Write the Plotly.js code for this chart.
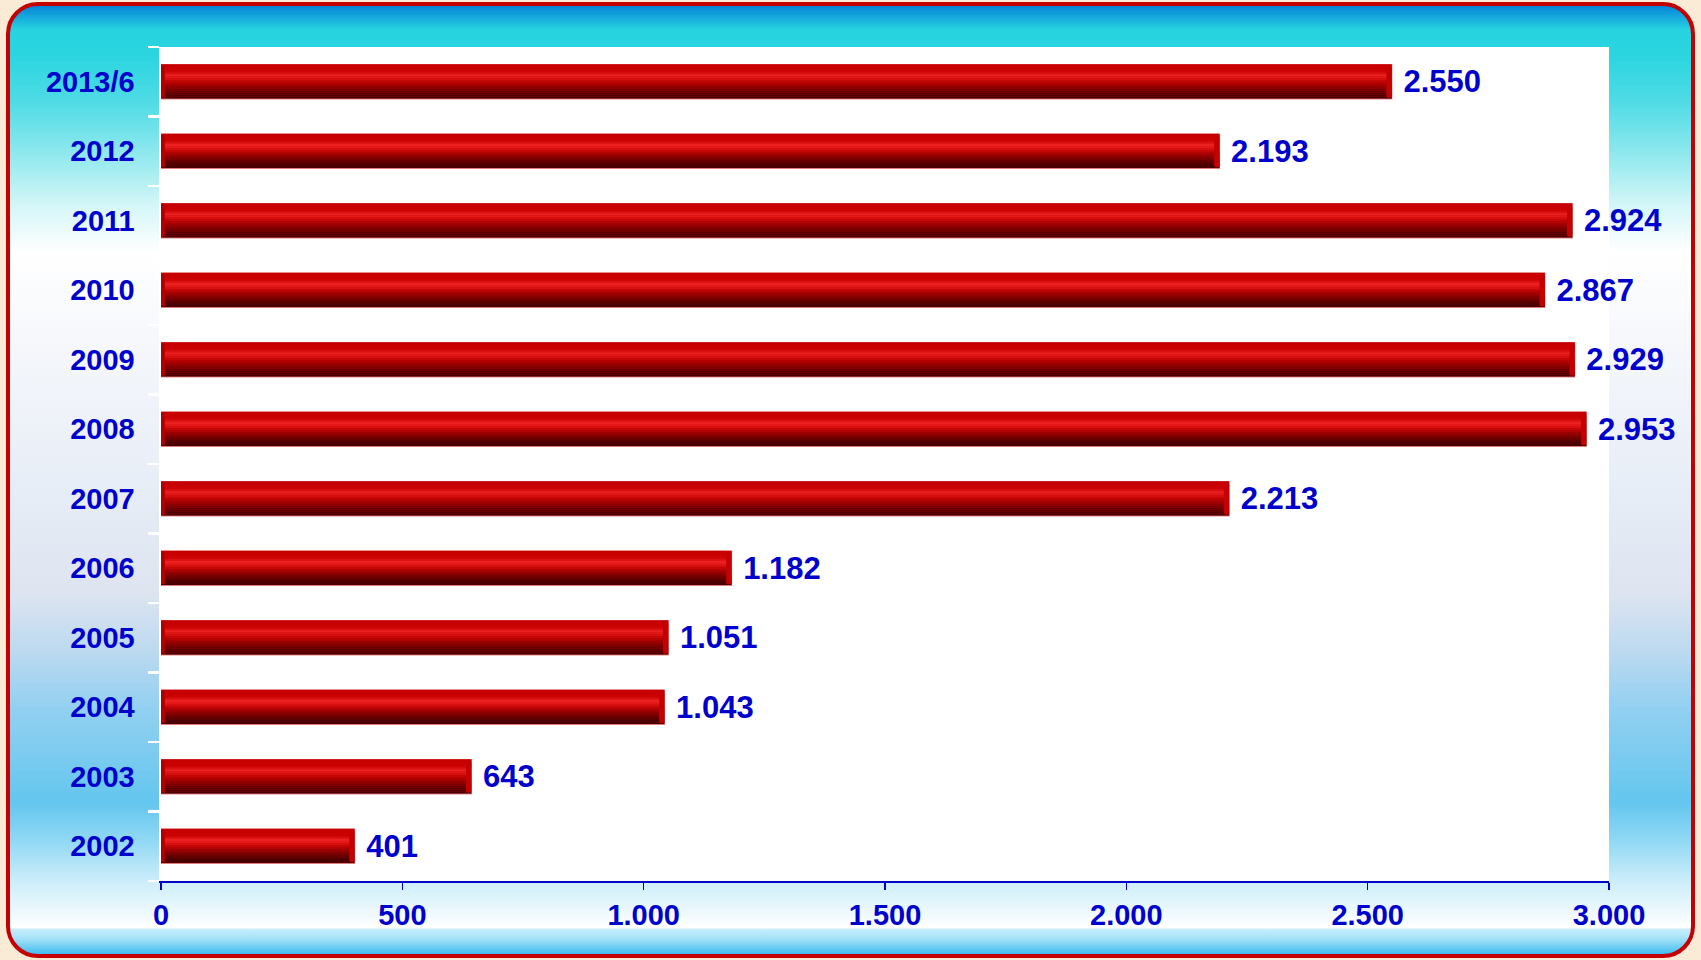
<!DOCTYPE html>
<html>
<head>
<meta charset="utf-8">
<script src="https://cdn.plot.ly/plotly-3.0.1.min.js"></script>
<style>
  html, body { margin: 0; padding: 0; width: 1701px; height: 960px; overflow: hidden; background: #f9ebd5; }
  #frame {
    position: absolute; left: 6px; top: 2px; width: 1681px; height: 948px;
    border: 4px solid #c40000; border-radius: 32px;
    background: linear-gradient(to bottom,
      #0784d8 0%, #27d3e0 2.5%, #2ad5e0 5%, #4edbe5 10%, #a0ecf0 17%, #d4f6f8 21%,
      #ffffff 26%, #f5f7fb 36%, #e8eef7 50%, #dde4f0 62%, #bcdaf0 68%, #93d0f1 74%,
      #64c6ee 84%, #90d8f4 88%, #c8ecf9 92%, #ffffff 97.2%, #c8eefb 97.4%, #9ee0f8 98.5%, #40bcf0 100%);
  }
  #chart { position: absolute; left: 0; top: 0; width: 1701px; height: 960px; }
</style>
</head>
<body>
<div id="frame"></div>
<div id="chart"></div>
<script>
// Data (bottom to top)
const years = ['2002','2003','2004','2005','2006','2007','2008','2009','2010','2011','2012','2013/6'];
const values = [401, 643, 1043, 1051, 1182, 2213, 2953, 2929, 2867, 2924, 2193, 2550];
const xTickValues = [0, 500, 1000, 1500, 2000, 2500, 3000];

const BLUE = '#0000CC';
const FONT = 'Liberation Sans, Arial, Helvetica, sans-serif';
const W = 0.49;

// cylinder shading stops (t from top of bar to bottom)
const stops = [
  [0.00, [196, 0, 0]],
  [0.06, [200, 0, 0]],
  [0.22, [204, 4, 4]],
  [0.32, [236, 32, 32]],
  [0.40, [226, 22, 22]],
  [0.50, [196, 6, 6]],
  [0.62, [156, 0, 0]],
  [0.75, [116, 0, 0]],
  [0.88, [82, 0, 0]],
  [1.00, [70, 0, 0]]
];
function colorAt(t) {
  for (let i = 0; i < stops.length - 1; i++) {
    const [t0, c0] = stops[i], [t1, c1] = stops[i + 1];
    if (t >= t0 && t <= t1) {
      const f = (t - t0) / (t1 - t0);
      const c = c0.map((v, k) => Math.round(v + (c1[k] - v) * f));
      return 'rgb(' + c.join(',') + ')';
    }
  }
  return 'rgb(70,0,0)';
}

const traces = [];
// base bar with outline and value labels
traces.push({
  type: 'bar', orientation: 'h', y: years, x: values,
  width: W,
  marker: { color: '#b80000', line: { color: 'rgba(226,110,110,0.85)', width: 1.2 } },
  text: values,
  texttemplate: '\u00a0%{x:,}',
  textposition: 'outside',
  textfont: { family: FONT, size: 31, color: BLUE, weight: 'bold' },
  constraintext: 'none',
  cliponaxis: false,
  hoverinfo: 'skip'
});
// shading slices
const N = 17;
for (let i = 0; i < N; i++) {
  const t0 = i / N, t1 = (i + 1) / N;
  traces.push({
    type: 'bar', orientation: 'h', y: years, x: values,
    width: W * (t1 - t0) * 0.96 + 0.0015,
    offset: W / 2 - W * t1 + 0.01 * W,
    marker: { color: colorAt((t0 + t1) / 2), line: { width: 0 } },
    hoverinfo: 'skip'
  });
}
// end caps
const capUnits = 11;
traces.push({
  type: 'bar', orientation: 'h', y: years, x: years.map(() => capUnits),
  base: values.map(v => v - capUnits),
  width: W * 0.94,
  marker: { color: '#c40000', line: { width: 0 }, cornerradius: 3 },
  hoverinfo: 'skip'
});
traces.push({
  type: 'bar', orientation: 'h', y: years, x: years.map(() => 8),
  base: 0,
  width: W * 0.94,
  marker: { color: '#b00000', line: { width: 0 } },
  hoverinfo: 'skip'
});

const layout = {
  width: 1701, height: 960,
  margin: { l: 160.5, r: 92, t: 47, b: 79, pad: 0 },
  paper_bgcolor: 'rgba(0,0,0,0)',
  plot_bgcolor: '#ffffff',
  barmode: 'overlay',
  showlegend: false,
  hovermode: false,
  separators: ',.',
  font: { family: FONT, color: BLUE },
  xaxis: {
    range: [0, 3000],
    tickvals: xTickValues,
    tickformat: ',',
    showgrid: false, zeroline: false,
    showline: true, linecolor: BLUE, linewidth: 2,
    ticks: 'outside', ticklen: 7, tickwidth: 1.5, tickcolor: BLUE,
    ticklabelstandoff: 0,
    tickfont: { family: FONT, size: 29, color: BLUE, weight: 'bold' },
    fixedrange: true
  },
  yaxis: {
    type: 'category',
    categoryorder: 'array', categoryarray: years,
    range: [-0.5, 11.5],
    showgrid: false, zeroline: false,
    showline: true, linecolor: '#ffffff', linewidth: 2.5,
    ticks: 'outside', tickson: 'boundaries', ticklen: 11, tickwidth: 2.5, tickcolor: '#ffffff',
    ticklabelstandoff: 18,
    tickfont: { family: FONT, size: 29, color: BLUE, weight: 'bold' },
    fixedrange: true
  }
};

Plotly.newPlot('chart', traces, layout, { displayModeBar: false, staticPlot: true });
</script>
</body>
</html>
